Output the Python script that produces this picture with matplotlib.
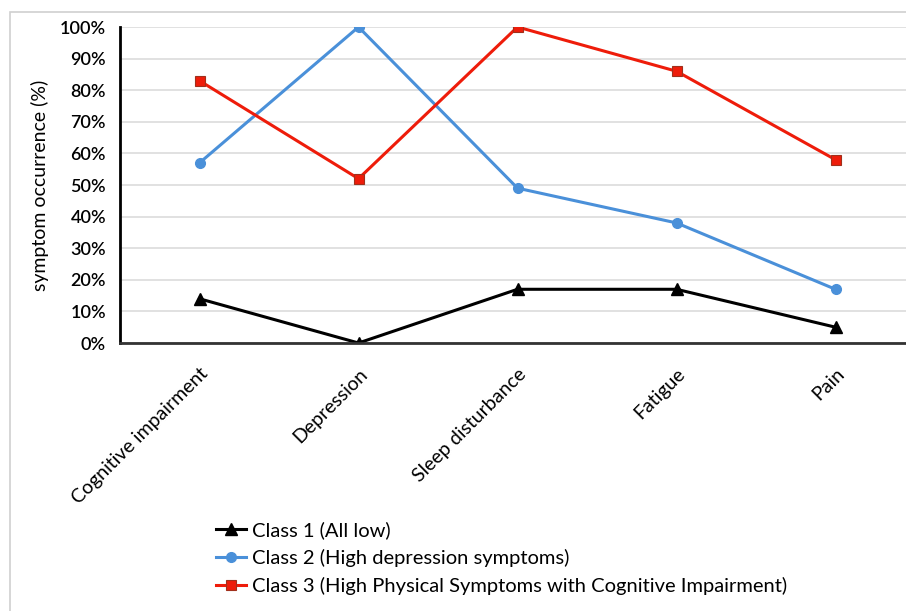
import matplotlib.pyplot as plt
from matplotlib.patches import Rectangle
from matplotlib.ticker import PercentFormatter

categories = ["Cognitive impairment", "Depression", "Sleep disturbance", "Fatigue", "Pain"]
class1 = [14, 0, 17, 17, 5]
class2 = [57, 100, 49, 38, 17]
class3 = [83, 52, 100, 86, 58]
labels = ["Class 1 (All low)",
          "Class 2 (High depression symptoms)",
          "Class 3 (High Physical Symptoms with Cognitive Impairment)"]

plt.rcParams['font.family'] = ['Lato', 'DejaVu Sans']

W, H = 906, 611
fig = plt.figure(figsize=(W / 100, H / 100), dpi=100)

# outer chart border (cut off on right and bottom)
fig.patches.append(Rectangle((10 / W, -0.1), 1.2, 1 - 12 / H + 0.1, transform=fig.transFigure,
                             fill=False, edgecolor="#d0d0d0", linewidth=1.2))

ax = fig.add_axes([120 / W, 1 - 343 / H, 795 / W, 316 / H])
x = list(range(len(categories)))

ax.plot(x, class1, color="black", linewidth=2.2, marker="^", markersize=8, label=labels[0])
ax.plot(x, class2, color="#4a90d9", linewidth=2.2, marker="o", markersize=7, label=labels[1])
ax.plot(x, class3, color="#ee1c0a", linewidth=2.2, marker="s", markersize=7,
        markeredgecolor="#a0301c", markeredgewidth=0.8, label=labels[2])

ax.set_xlim(-0.5, 4.5)
ax.set_ylim(0, 100)
ax.set_yticks(range(0, 101, 10))
ax.yaxis.set_major_formatter(PercentFormatter(decimals=0))
ax.grid(axis="y", color="#dcdcdc", linewidth=1.2)
ax.set_axisbelow(True)
ax.tick_params(axis="y", length=0, labelsize=13, pad=10)
ax.tick_params(axis="x", length=0, pad=16)
for t in ax.get_yticklabels():
    t.set_fontweight("semibold")

ax.set_xticks(x)
ax.set_xticklabels(categories, rotation=45, ha="right", rotation_mode="anchor", fontsize=14)
ax.set_ylabel("symptom occurrence (%)", fontsize=14, labelpad=8)

for s in ["top", "right"]:
    ax.spines[s].set_visible(False)
ax.spines["left"].set_linewidth(2)
ax.spines["left"].set_color("black")
ax.spines["bottom"].set_linewidth(2)
ax.spines["bottom"].set_color("#333333")

fig.legend(loc="upper left", bbox_to_anchor=(198 / W, 1 - 503 / H), frameon=False,
           fontsize=14.5, handlelength=1.5, labelspacing=0.5, handletextpad=0.3)

fig.savefig("out.png", dpi=100)
